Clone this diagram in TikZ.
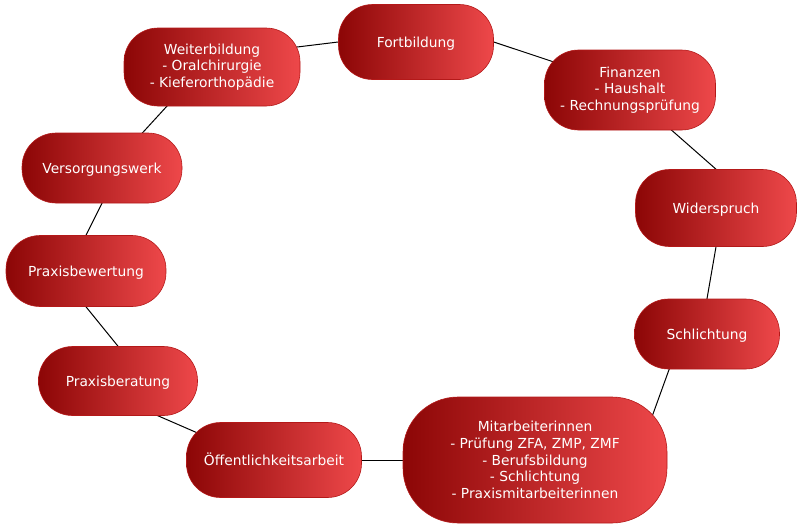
\documentclass[tikz,border=0pt]{standalone}
\usepackage{fontspec}
\setmainfont{DejaVu Sans}
\usetikzlibrary{backgrounds}
\definecolor{darkred}{RGB}{140,6,6}
\definecolor{lightred}{RGB}{238,72,74}
\definecolor{rimred}{RGB}{180,25,25}

\begin{document}
\begin{tikzpicture}[x=1pt,y=-1pt,
	topic/.style={draw=rimred,line width=0.6pt,rounded corners=34pt,left color=darkred,right color=lightred,
		text=white,align=center,inner sep=0pt,font=\fontsize{13.8}{16.6}\selectfont},
	oneline/.style={topic,text height=12pt,text depth=2pt},
	link/.style={line width=1pt,shorten <=-20pt,shorten >=-20pt}]
		\useasboundingbox (0,0) rectangle (800,528);
		\node[oneline,minimum width=155pt,minimum height=75pt](fort) at (416,42) {Fortbildung};
		\node[topic,minimum width=176pt,minimum height=78pt](weiter) at (212,67) {Weiterbildung\\- Oralchirurgie\\- Kieferorthopädie};
		\node[topic,minimum width=171pt,minimum height=80pt](fin) at (630,90) {Finanzen\\- Haushalt\\- Rechnungsprüfung};
		\node[oneline,minimum width=160pt,minimum height=70pt](vers) at (102,168) {Versorgungswerk};
		\node[oneline,minimum width=161pt,minimum height=77pt](wid) at (716,208) {Widerspruch};
		\node[oneline,minimum width=160pt,minimum height=71pt](bew) at (86,271) {Praxisbewertung};
		\node[oneline,minimum width=145pt,minimum height=70pt](schl) at (707,334) {Schlichtung};
		\node[oneline,minimum width=159pt,minimum height=69pt](berat) at (118,381) {Praxisberatung};
		\node[oneline,minimum width=175pt,minimum height=75pt](oeff) at (274,460) {Öffentlichkeitsarbeit};
		\node[topic,minimum width=264pt,minimum height=126pt,rounded corners=55pt](mit) at (535,460) {Mitarbeiterinnen\\- Prüfung ZFA, ZMP, ZMF\\- Berufsbildung\\- Schlichtung\\- Praxismitarbeiterinnen};
		\begin{pgfonlayer}{background}
		\draw[link] (weiter.13) -- (fort.west);
		\draw[link] (fort.east) -- (fin.160);
		\draw[link] (fin.-44) -- (wid.north);
		\draw[link] (wid.south) -- (schl.north);
		\draw[link] (schl.223) -- (mit.27);
		\draw[link] (mit.west) -- (oeff.east);
		\draw[link] (oeff.160) -- (berat.-41);
		\draw[link] (berat.north) -- (bew.south);
		\draw[link] (bew.north) -- (vers.south);
		\draw[link] (vers.41) -- (weiter.221);
		\end{pgfonlayer}
	\end{tikzpicture}
\end{document}
